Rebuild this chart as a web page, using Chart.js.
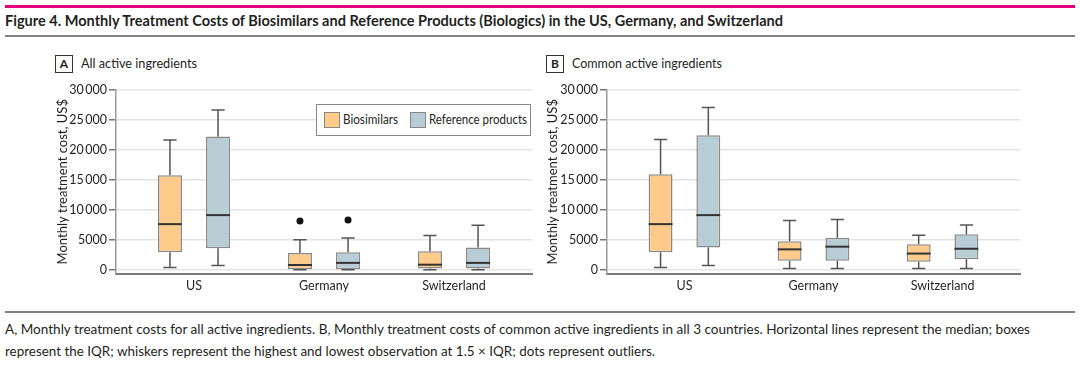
<!DOCTYPE html>
<html>
<head>
<meta charset="utf-8">
<script src="https://cdn.jsdelivr.net/npm/chart.js@4"></script>
<style>
  body { margin: 0; background: #fff; font-family: Lato, "Noto Sans", sans-serif; color: #231f20; }
  #page { position: relative; width: 1080px; height: 367px; overflow: hidden; }
  .rule { position: absolute; left: 5px; right: 5px; }
  .fit { position: absolute; white-space: nowrap; transform-origin: left center; }
  .tag { position: absolute; width: 16px; height: 16px; border: 1px solid #333; font-weight: 700; font-size: 12px; text-align: center; line-height: 16px; }
  canvas { position: absolute; }
  #legend { position: absolute; left: 316px; top: 104px; width: 213px; height: 30px; border: 1.5px solid #888; background: #fff; font-size: 13px; }
  #legend span.sw { position: absolute; top: 7px; width: 14px; height: 14px; border: 1px solid #888; }
  #legend .fit { top: 6px; line-height: 17px; }
</style>
</head>
<body>
<div id="page">
  <div class="rule" style="top:5px;height:3px;background:#e6007e;"></div>
  <div class="fit" id="title" data-w="778" style="left:5px;top:11px;font-size:15px;font-weight:700;">Figure 4. Monthly Treatment Costs of Biosimilars and Reference Products (Biologics) in the US, Germany, and Switzerland</div>
  <div class="rule" style="top:35px;height:2px;background:#808080;"></div>

  <div class="tag" style="left:55px;top:55px;">A</div>
  <div class="fit" data-w="116" style="left:81px;top:55px;font-size:13px;line-height:17px;">All active ingredients</div>
  <div class="tag" style="left:546px;top:55px;">B</div>
  <div class="fit" data-w="150" style="left:572px;top:55px;font-size:13px;line-height:17px;">Common active ingredients</div>

  <canvas id="chartA" width="490" height="220" style="left:50px;top:80px;"></canvas>
  <canvas id="chartB" width="490" height="220" style="left:540px;top:80px;"></canvas>

  <div id="legend">
    <span class="sw" style="left:7px;background:#fecb8b;"></span>
    <span class="fit" data-w="55" style="left:26px;">Biosimilars</span>
    <span class="sw" style="left:93px;background:#b9cdd6;"></span>
    <span class="fit" data-w="98" style="left:112px;">Reference products</span>
  </div>

  <div class="rule" style="top:311px;height:2px;background:#808080;"></div>
  <div class="fit" data-w="1025" style="left:5px;top:321px;font-size:13px;">A, Monthly treatment costs for all active ingredients. B, Monthly treatment costs of common active ingredients in all 3 countries. Horizontal lines represent the median; boxes</div>
  <div class="fit" data-w="650" style="left:5px;top:343px;font-size:13px;">represent the IQR; whiskers represent the highest and lowest observation at 1.5 × IQR; dots represent outliers.</div>
</div>

<script>
// categories and tick values
const countries = ["US", "Germany", "Switzerland"];
const yTicks = [0, 5000, 10000, 15000, 20000, 25000, 30000];

// box stats per country: [low whisker, Q1, median, Q3, high whisker]
const allBiosimilars = [[400, 2900, 7600, 15750, 21600], [0, 100, 800, 2800, 5000], [0, 200, 850, 3100, 5700]];
const allReference = [[700, 3600, 9100, 22200, 26600], [0, 100, 1150, 2900, 5300], [0, 200, 1150, 3700, 7400]];
const allBioOutliers = [[], [8100], []];
const allRefOutliers = [[], [8300], []];

const commonBiosimilars = [[400, 2900, 7600, 15900, 21700], [200, 1500, 3400, 4750, 8200], [200, 1350, 2700, 4250, 5750]];
const commonReference = [[700, 3700, 9100, 22400, 27000], [200, 1500, 3850, 5350, 8350], [200, 1750, 3500, 5900, 7450]];
const commonBioOutliers = [[], [], []];
const commonRefOutliers = [[], [], []];

Chart.defaults.font.family = "Lato, 'Noto Sans', sans-serif";
Chart.defaults.color = "#231f20";

function fmt(v) {
  return v >= 10000 ? String(v).replace(/(\d)(?=(\d{3})+$)/g, "$1\u2009") : String(v);
}

// whiskers, medians and outlier dots on top of the floating bars
const boxPlugin = {
  id: "boxes",
  afterDatasetsDraw(chart) {
    const ctx = chart.ctx;
    const y = chart.scales.y;
    chart.data.datasets.forEach((ds, di) => {
      const meta = chart.getDatasetMeta(di);
      meta.data.forEach((bar, i) => {
        const s = ds.stats[i];
        const cx = bar.x, w = bar.width, cap = w * 0.55;
        const yLo = y.getPixelForValue(s[0]), yQ1 = y.getPixelForValue(s[1]);
        const yMed = y.getPixelForValue(s[2]);
        const yQ3 = y.getPixelForValue(s[3]), yHi = y.getPixelForValue(s[4]);
        ctx.save();
        ctx.strokeStyle = "#555";
        ctx.lineWidth = 1.5;
        ctx.beginPath();
        ctx.moveTo(cx, yQ3); ctx.lineTo(cx, yHi);
        ctx.moveTo(cx - cap / 2, yHi); ctx.lineTo(cx + cap / 2, yHi);
        ctx.moveTo(cx, yQ1); ctx.lineTo(cx, yLo);
        ctx.moveTo(cx - cap / 2, yLo); ctx.lineTo(cx + cap / 2, yLo);
        ctx.stroke();
        ctx.strokeStyle = "#333";
        ctx.lineWidth = 2;
        ctx.beginPath();
        ctx.moveTo(cx - w / 2, yMed); ctx.lineTo(cx + w / 2, yMed);
        ctx.stroke();
        ctx.fillStyle = "#111";
        ds.outliers[i].forEach(v => {
          ctx.beginPath();
          ctx.arc(cx, y.getPixelForValue(v), 3.5, 0, Math.PI * 2);
          ctx.fill();
        });
        ctx.restore();
      });
    });
  }
};

function boxData(stats) {
  return stats.map((s, i) => ({ x: i, y: [s[1], s[3]] }));
}

function makeChart(id, bio, ref, bioOut, refOut, yAxisWidth, padRight) {
  return new Chart(document.getElementById(id), {
    type: "bar",
    data: {
      datasets: [
        { label: "Biosimilars", data: boxData(bio), stats: bio, outliers: bioOut,
          backgroundColor: "#fecb8b", borderColor: "#8a8a8a", borderWidth: 1.5, borderSkipped: false },
        { label: "Reference products", data: boxData(ref), stats: ref, outliers: refOut,
          backgroundColor: "#b9cdd6", borderColor: "#8a8a8a", borderWidth: 1.5, borderSkipped: false }
      ]
    },
    options: {
      responsive: false,
      animation: false,
      devicePixelRatio: 1,
      categoryPercentage: 0.74,
      barPercentage: 0.5,
      layout: { padding: { top: 9, right: padRight, left: 0, bottom: 0 } },
      plugins: { legend: { display: false }, tooltip: { enabled: false } },
      scales: {
        x: {
          type: "linear",
          min: -0.6,
          max: 2.6,
          offset: false,
          afterBuildTicks: (s) => { s.ticks = countries.map((c, i) => ({ value: i })); },
          afterFit: (s) => { s.height = 26; },
          ticks: { callback: (v) => countries[v], padding: 4, font: { size: 12.5 }, maxRotation: 0 },
          grid: { display: false, drawTicks: false, offset: false },
          border: { display: true, color: "#7a7a7a", width: 2 }
        },
        y: {
          min: -700,
          max: 30000,
          afterBuildTicks: (s) => { s.ticks = yTicks.map(v => ({ value: v })); },
          afterFit: (s) => { s.width = yAxisWidth; },
          ticks: { callback: (v) => fmt(v), padding: 2, font: { size: 12.5 } },
          grid: { color: "#e3e3e3", lineWidth: 1.5, tickLength: 7, tickColor: "#777" },
          border: { display: true, color: "#9a9a9a", width: 1.5 },
          title: { display: true, text: "Monthly treatment cost, US$", font: { size: 13 }, padding: { top: 5, bottom: 0 } }
        }
      }
    },
    plugins: [boxPlugin]
  });
}

makeChart("chartA", allBiosimilars, allReference, allBioOutliers, allRefOutliers, 66, 8);
makeChart("chartB", commonBiosimilars, commonReference, commonBioOutliers, commonRefOutliers, 67, 10);

// squeeze long text lines to the width they take in the figure
document.querySelectorAll(".fit").forEach(el => {
  const w = el.getBoundingClientRect().width;
  el.style.transform = "scaleX(" + (Number(el.dataset.w) / w) + ")";
});
</script>
</body>
</html>
